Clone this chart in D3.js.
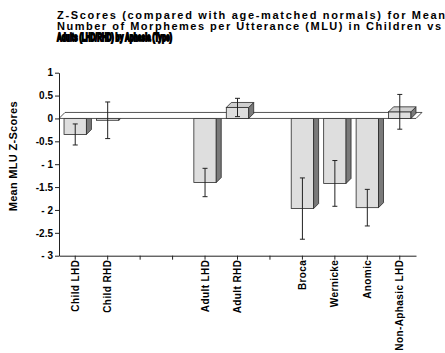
<!DOCTYPE html>
<html>
<head>
<meta charset="utf-8">
<script src="https://cdn.jsdelivr.net/npm/d3@7"></script>
<style>
  body { margin: 0; background: #fff; }
  text { font-family: "Liberation Sans", Arial, sans-serif; font-weight: bold; fill: #000; }
</style>
</head>
<body>
<script>
// chart values
const categories = ["Child LHD", "Child RHD", "", "", "Adult LHD", "Adult RHD", "", "Broca", "Wernicke", "Anomic", "Non-Aphasic LHD"];
const means  = [-0.35, -0.04, null, null, -1.40, 0.24, null, -1.97, -1.42, -1.95, 0.145];
const errors = [0.23, 0.40, null, null, 0.31, 0.20, null, 0.67, 0.50, 0.40, 0.38];
const yTicks = [1, 0.5, 0, -0.5, -1, -1.5, -2, -2.5, -3];
const yTickLabels = ["1", "0.5", "0", "-0.5", "- 1", "-1.5", "- 2", "-2.5", "- 3"];
const titleLines = [
  "Z-Scores (compared with age-matched normals) for Mean",
  "Number of Morphemes per Utterance (MLU) in Children vs",
  "Adults (LHD/RHD) by Aphasia (Type)"
];

const width = 445, height = 353;
const plotLeft = 59, plotRight = 416, plotTop = 72.7, plotBottom = 255.7;

const svg = d3.select("body").append("svg")
  .attr("width", width).attr("height", height);

const x = d3.scaleBand().domain(d3.range(categories.length)).range([plotLeft, plotRight]).padding(0);
const y = d3.scaleLinear().domain([-3, 1]).range([plotBottom, plotTop]);

const barW = x.bandwidth() * 0.69;
const dx = 5, dy = -5;      // bar depth
const fdx = 6, fdy = -6;    // floor depth
const front = "#dedede", side = "#7a7a7a", topFill = "#cfcfcf", edge = "#2a2a2a";

const bars = means.map((v, i) => ({i, v, e: errors[i]})).filter(d => d.v !== null);

function drawBar(g, d) {
  const cx = x(d.i) + x.bandwidth() / 2;
  const x0 = cx - barW / 2, x1 = cx + barW / 2;
  const yT = Math.min(y(0), y(d.v)), yB = Math.max(y(0), y(d.v));
  g.append("rect")
    .attr("x", x0).attr("y", yT).attr("width", barW).attr("height", yB - yT)
    .attr("fill", front).attr("stroke", edge).attr("stroke-width", 0.8);
  g.append("path")
    .attr("d", `M${x1},${yT}L${x1 + dx},${yT + dy}L${x1 + dx},${yB + dy}L${x1},${yB}Z`)
    .attr("fill", side).attr("stroke", edge).attr("stroke-width", 0.8);
  if (d.v > 0) {
    g.append("path")
      .attr("d", `M${x0},${yT}L${x0 + dx},${yT + dy}L${x1 + dx},${yT + dy}L${x1},${yT}Z`)
      .attr("fill", topFill).attr("stroke", edge).attr("stroke-width", 0.8);
  }
}

// negative bars sit under the floor
const neg = svg.append("g");
bars.filter(d => d.v < 0).forEach(d => drawBar(neg, d));

// floor at zero
const y0 = y(0);
svg.append("path")
  .attr("d", `M${plotLeft},${y0}L${plotRight},${y0}L${plotRight + fdx},${y0 + fdy}L${plotLeft + fdx},${y0 + fdy}Z`)
  .attr("fill", "#fff").attr("stroke", edge).attr("stroke-width", 0.8);

const pos = svg.append("g");
bars.filter(d => d.v >= 0).forEach(d => drawBar(pos, d));

// error bars
const eb = svg.append("g").attr("stroke", "#222").attr("stroke-width", 1);
bars.forEach(d => {
  const cx = x(d.i) + x.bandwidth() / 2;
  const hi = y(d.v + d.e), lo = y(d.v - d.e);
  eb.append("line").attr("x1", cx).attr("x2", cx).attr("y1", hi).attr("y2", lo);
  eb.append("line").attr("x1", cx - 2.5).attr("x2", cx + 2.5).attr("y1", hi).attr("y2", hi);
  eb.append("line").attr("x1", cx - 2.5).attr("x2", cx + 2.5).attr("y1", lo).attr("y2", lo);
});

// axes
const yAxis = svg.append("g").attr("transform", `translate(${plotLeft},0)`)
  .call(d3.axisLeft(y).tickValues(yTicks).tickSize(4).tickSizeOuter(0)
    .tickFormat((d, i) => yTickLabels[i]));
yAxis.selectAll("text").attr("font-size", 10).attr("x", -6);

const xAxis = svg.append("g").attr("transform", `translate(0,${plotBottom})`)
  .call(d3.axisBottom(x).tickSize(4).tickSizeOuter(0).tickFormat(i => categories[i]));
xAxis.selectAll("text")
  .attr("font-size", 10)
  .attr("letter-spacing", 0.4)
  .attr("transform", "rotate(-90)")
  .attr("text-anchor", "end")
  .attr("x", -4).attr("y", 0).attr("dy", "0.35em");

svg.selectAll(".domain, .tick line").attr("stroke", "#222");

// y axis title
svg.append("text")
  .attr("transform", `translate(17,${(plotTop + plotBottom) / 2 - 8}) rotate(-90)`)
  .attr("text-anchor", "middle")
  .attr("font-size", 11)
  .attr("letter-spacing", 0.3)
  .text("Mean MLU Z-Scores");

// title
const tl = [[18.5, 388, 11], [29.5, 384, 11], [40.5, 115, 10]];
titleLines.forEach((t, i) => {
  const tx = svg.append("text")
    .attr("x", 57).attr("y", tl[i][0])
    .attr("font-size", tl[i][2])
    .attr("textLength", tl[i][1])
    .attr("lengthAdjust", i === 2 ? "spacingAndGlyphs" : "spacing")
    .text(t);
  if (i === 2) tx.attr("stroke", "#000").attr("stroke-width", 1.8);
});
</script>
</body>
</html>
